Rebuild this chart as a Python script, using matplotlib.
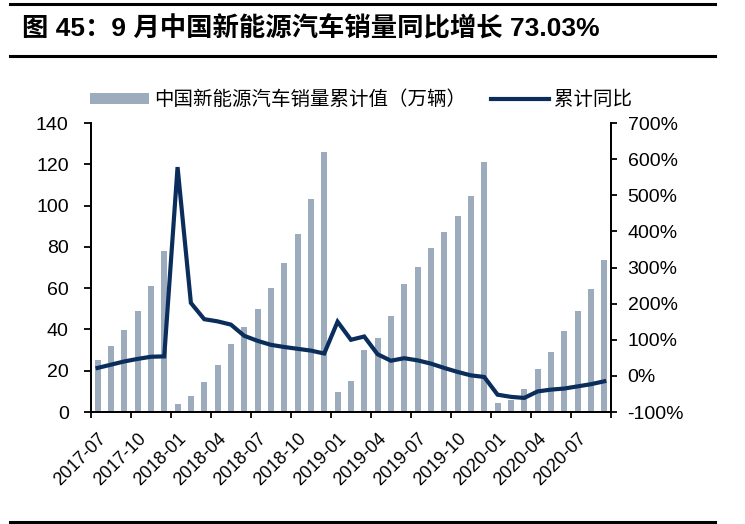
import numpy as np
import matplotlib
matplotlib.use('Agg')
import matplotlib.pyplot as plt
from matplotlib.ticker import FuncFormatter

plt.rcParams['font.family'] = ['Liberation Sans', 'Noto Sans CJK SC']
plt.rcParams['axes.unicode_minus'] = False

# months 2017-07 .. 2020-09
months = ['2017-07', '2017-08', '2017-09', '2017-10', '2017-11', '2017-12',
          '2018-01', '2018-02', '2018-03', '2018-04', '2018-05', '2018-06',
          '2018-07', '2018-08', '2018-09', '2018-10', '2018-11', '2018-12',
          '2019-01', '2019-02', '2019-03', '2019-04', '2019-05', '2019-06',
          '2019-07', '2019-08', '2019-09', '2019-10', '2019-11', '2019-12',
          '2020-01', '2020-02', '2020-03', '2020-04', '2020-05', '2020-06',
          '2020-07', '2020-08', '2020-09']

# cumulative sales (10k units)
sales_cum = [25.2, 32.0, 39.9, 49.1, 61.0, 77.8,
             3.9, 7.6, 14.4, 22.6, 32.9, 41.3,
             49.7, 60.1, 72.2, 86.2, 103.2, 125.8,
             9.7, 14.9, 30.0, 36.0, 46.5, 61.8,
             70.1, 79.4, 87.4, 94.9, 104.5, 120.9,
             4.6, 6.0, 11.3, 20.7, 28.9, 39.4,
             48.8, 59.6, 73.6]

# cumulative YoY (%)
yoy_cum = [22, 31, 40, 47, 53, 54,
           578, 202, 157, 151, 142, 111,
           97, 86, 80, 75, 70, 62,
           150, 100, 109, 60, 42, 49,
           43, 34, 22, 11, 1.5, -3,
           -52, -58, -61, -43, -38, -35,
           -29, -23, -15]

bar_color = '#9DACBD'
line_color = '#0B2D5B'

fig = plt.figure(figsize=(7.45, 5.24), dpi=100)

# title block with rules
fig.add_artist(plt.Line2D([0.013, 0.96], [0.992, 0.992], color='black', lw=2.2))
fig.add_artist(plt.Line2D([0.013, 0.96], [0.893, 0.893], color='black', lw=2.2))
fig.add_artist(plt.Line2D([0.013, 0.96], [0.004, 0.004], color='black', lw=2.2))
fig.text(0.029, 0.946, '图 45：9 月中国新能源汽车销量同比增长 73.03%',
         fontsize=19, fontweight='bold', va='center', ha='left')

ax = fig.add_axes([0.122, 0.2137, 0.698, 0.5515])
x = np.arange(len(months))
bars = ax.bar(x, sales_cum, width=0.45, color=bar_color,
              label='中国新能源汽车销量累计值（万辆）', zorder=1)
ax.set_ylim(0, 140)
ax.set_yticks(range(0, 141, 20))
ax.set_xlim(-0.5, len(months) - 0.5)

ax2 = ax.twinx()
line, = ax2.plot(x, yoy_cum, color=line_color, lw=3, label='累计同比',
                 solid_joinstyle='miter')
ax2.set_ylim(-100, 700)
ax2.set_yticks(range(-100, 701, 100))
ax2.yaxis.set_major_formatter(FuncFormatter(lambda v, p: '{:.0f}%'.format(v)))

# x ticks: marks at category edges, labels at every 3rd category
ax.set_xticks(np.arange(-0.5, len(months), 3))
ax.set_xticklabels([])
ax.set_xticks(x[::3], minor=True)
ax.set_xticklabels(months[::3], minor=True, rotation=45, ha='right',
                   rotation_mode='anchor')
ax.tick_params(axis='x', which='minor', length=0, pad=13, labelsize=13)
ax.tick_params(axis='x', which='major', length=4, width=1.3)
ax.tick_params(axis='y', length=5, width=1.3, labelsize=14, pad=11)
ax2.tick_params(axis='y', length=4, width=1.3, labelsize=14, pad=8)

for a in (ax, ax2):
    a.spines['top'].set_visible(False)
    for s in ('left', 'right', 'bottom'):
        a.spines[s].set_linewidth(1.3)

fig.legend(handles=[bars, line], loc='center', bbox_to_anchor=(0.485, 0.809),
           ncol=2, frameon=False, fontsize=14, handlelength=3.0,
           handleheight=0.45, columnspacing=1.3, handletextpad=0.25)

plt.savefig('out.png', dpi=100)
